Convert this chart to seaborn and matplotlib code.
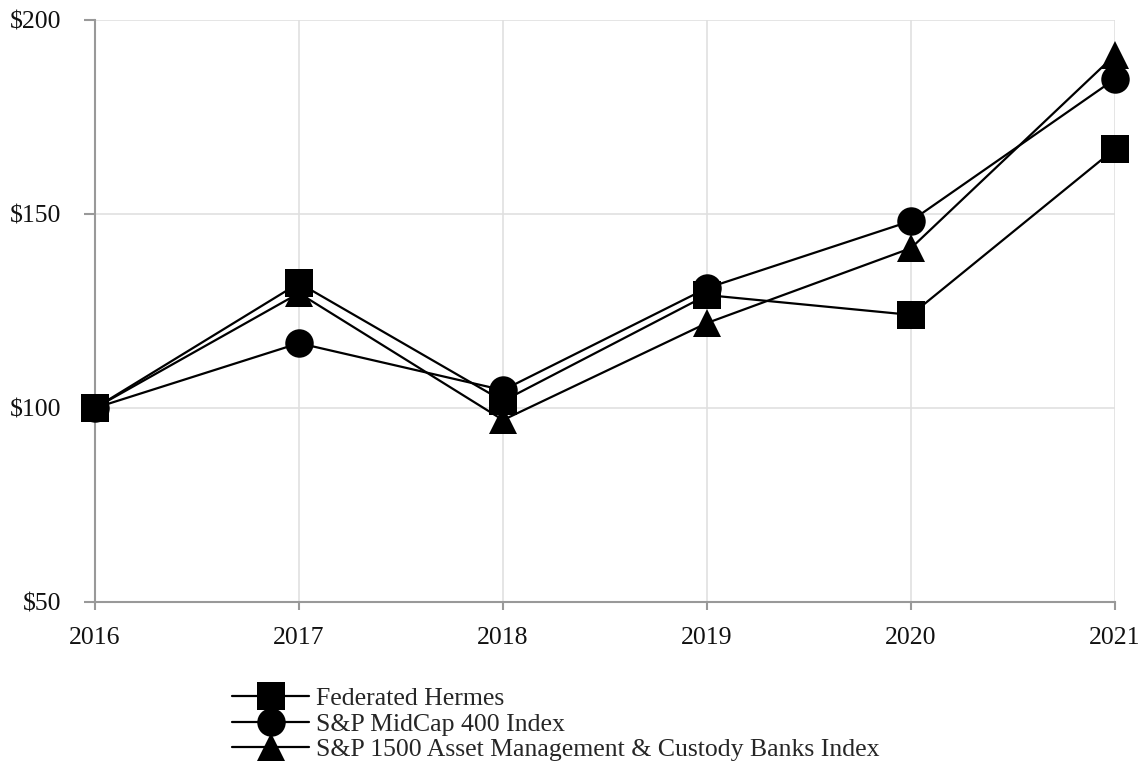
import pandas as pd
import seaborn as sns
import matplotlib.pyplot as plt

years = [2016, 2017, 2018, 2019, 2020, 2021]
federated = [100, 132.2, 101.8, 129.1, 124.0, 166.8]
midcap = [100, 116.7, 104.6, 130.9, 148.2, 184.8]
asset_mgmt = [100, 129.6, 96.9, 121.9, 141.2, 191.0]
names = ['Federated Hermes', 'S&P MidCap 400 Index',
         'S&P 1500 Asset Management & Custody Banks Index']

df = pd.DataFrame({'year': years * 3,
                   'value': federated + midcap + asset_mgmt,
                   'series': [names[0]] * 6 + [names[1]] * 6 + [names[2]] * 6})

sns.set_style('white')
plt.rcParams['font.family'] = ['Liberation Serif', 'DejaVu Serif']
plt.rcParams['font.size'] = 18.5

fig = plt.figure(figsize=(11.39, 7.72), dpi=100)
ax = fig.add_axes([95 / 1139, 1 - 602 / 772, 1020 / 1139, 582 / 772])

sns.lineplot(data=df, x='year', y='value', style='series', hue='series',
             palette=['black'] * 3, markers=['s', 'o', '^'], dashes=False,
             markersize=20.5, linewidth=1.6, markeredgewidth=0, ax=ax, legend=True,
             zorder=3, clip_on=False)

ax.set_xlim(2016, 2021)
ax.set_ylim(50, 200)
ax.set_xticks(years)
ax.set_yticks([50, 100, 150, 200])
ax.set_yticklabels(['$50', '$100', '$150', '$200'])
ax.set_xlabel('')
ax.set_ylabel('')
ax.grid(True, color='#e0e0e0', linewidth=1.2, zorder=0)
ax.set_axisbelow(True)
for s in ['top', 'right']:
    ax.spines[s].set_visible(False)
for s in ['left', 'bottom']:
    ax.spines[s].set_color('#999999')
    ax.spines[s].set_linewidth(1.5)
    ax.spines[s].set_zorder(1)
ax.tick_params(axis='x', length=6, width=1.5, color='#999999', pad=12, direction='out', bottom=True)
ax.tick_params(axis='y', length=8, width=1.5, color='#999999', pad=16, direction='out', left=True)
for lab in ax.get_xticklabels() + ax.get_yticklabels():
    lab.set_color('#111111')

handles, labels = ax.get_legend_handles_labels()
ax.legend(handles, labels, loc='upper left',
          bbox_to_anchor=(232 / 1139, 1 - 687 / 772), bbox_transform=fig.transFigure,
          frameon=False, handlelength=3.0, handletextpad=0.25, labelspacing=0.1,
          borderpad=0, borderaxespad=0, fontsize=18.5)

fig.savefig('out.png', dpi=100)
